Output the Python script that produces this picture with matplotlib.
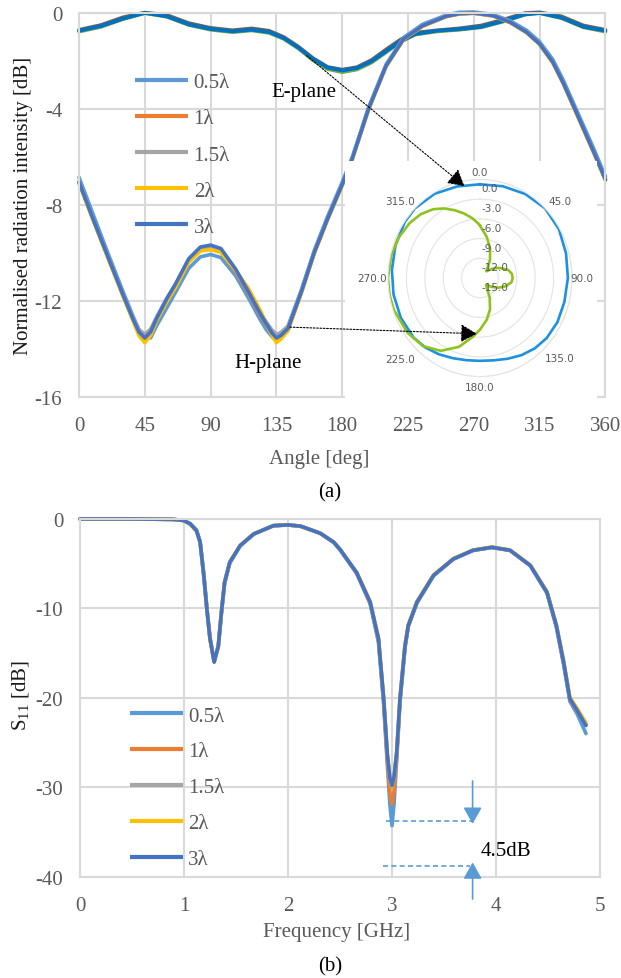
import numpy as np
import matplotlib
matplotlib.use("Agg")
import matplotlib.pyplot as plt
from matplotlib.patches import Rectangle
from matplotlib.transforms import offset_copy

plt.rcParams['font.family'] = ['Liberation Serif', 'DejaVu Serif']
plt.rcParams['mathtext.fontset'] = 'custom'
plt.rcParams['mathtext.rm'] = 'Liberation Serif'
plt.rcParams['mathtext.it'] = 'Liberation Serif:italic'
plt.rcParams['axes.unicode_minus'] = False

# Series (same for both panels)
series_labels = ['0.5λ', '1λ', '1.5λ', '2λ', '3λ']
series_colors = ['#5B9BD5', '#ED7D31', '#A5A5A5', '#FFC000', '#4472C4']

# (a) H-plane, normalised intensity [dB] vs angle [deg]
h_angle = [0, 10, 20, 30, 37, 41, 45, 49, 53, 60, 66, 75, 83, 90, 97, 107, 116, 124, 128, 132,
           135, 138, 143, 152, 161, 170, 180, 187, 198, 210, 222, 235, 251, 260, 270, 283, 295,
           306, 315, 324, 331, 338, 345, 352, 360]
h_05 = [-6.85, -8.45, -10.05, -11.6, -12.65, -13.2, -13.5, -13.55, -13.05, -12.3, -11.65, -10.65,
        -10.17, -10.07, -10.2, -10.95, -11.9, -12.8, -13.2, -13.5, -13.65, -13.5, -13.05, -11.55,
        -9.88, -8.48, -7.05, -5.98, -3.93, -2.14, -1.02, -0.47, -0.09, 0.03, 0.04, -0.06, -0.33,
        -0.72, -1.2, -1.94, -2.78, -3.74, -4.7, -5.66, -6.82]
h_1 = [-7.08, -8.67, -10.22, -11.76, -12.8, -13.35, -13.6, -13.35, -12.8, -11.98, -11.38, -10.35,
       -9.88, -9.83, -9.96, -10.77, -11.7, -12.6, -13.0, -13.4, -13.6, -13.5, -13.18, -11.66,
       -9.99, -8.6, -7.17, -6.07, -4.02, -2.22, -1.1, -0.55, -0.15, -0.04, -0.01, -0.12, -0.4,
       -0.81, -1.3, -2.07, -2.92, -3.88, -4.85, -5.82, -6.97]
h_15 = [-7.03, -8.63, -10.17, -11.7, -12.72, -13.2, -13.4, -13.18, -12.68, -11.9, -11.32, -10.3,
        -9.82, -9.75, -9.88, -10.7, -11.62, -12.5, -12.88, -13.22, -13.4, -13.32, -13.05, -11.6,
        -9.95, -8.56, -7.13, -6.03, -3.98, -2.18, -1.07, -0.52, -0.13, -0.03, 0.0, -0.1, -0.38,
        -0.79, -1.28, -2.04, -2.89, -3.85, -4.82, -5.79, -6.94]
h_2 = [-7.1, -8.7, -10.25, -11.8, -12.85, -13.45, -13.75, -13.45, -12.85, -12.05, -11.45, -10.4,
       -9.92, -9.87, -9.98, -10.72, -11.5, -12.4, -12.95, -13.45, -13.75, -13.6, -13.25, -11.7,
       -10.02, -8.62, -7.19, -6.08, -4.03, -2.23, -1.1, -0.55, -0.15, -0.04, -0.01, -0.12, -0.41,
       -0.82, -1.31, -2.08, -2.93, -3.9, -4.87, -5.84, -6.98]
h_3 = [-7.05, -8.65, -10.2, -11.74, -12.77, -13.3, -13.55, -13.3, -12.75, -11.92, -11.3, -10.25,
       -9.76, -9.68, -9.82, -10.67, -11.64, -12.54, -12.95, -13.35, -13.55, -13.45, -13.15, -11.64,
       -9.97, -8.58, -7.15, -6.05, -4.0, -2.2, -1.08, -0.53, -0.14, -0.03, 0.0, -0.11, -0.39,
       -0.8, -1.29, -2.05, -2.9, -3.86, -4.83, -5.8, -6.95]

# (a) E-plane
e_angle = [0, 15, 30, 45, 60, 75, 90, 105, 118, 130, 140, 150, 160, 170, 180, 190, 200, 210,
           220, 230, 245, 260, 275, 290, 305, 315, 330, 345, 360]
e_green = [-0.78, -0.58, -0.26, -0.01, -0.16, -0.5, -0.7, -0.8, -0.73, -0.83, -1.08, -1.48,
           -1.97, -2.34, -2.47, -2.36, -2.07, -1.64, -1.2, -0.9, -0.77, -0.7, -0.6, -0.36,
           -0.07, -0.01, -0.22, -0.6, -0.78]
e_grey = [-0.7, -0.5, -0.18, 0.02, -0.08, -0.42, -0.62, -0.72, -0.64, -0.74, -1.0, -1.4,
          -1.88, -2.25, -2.36, -2.26, -1.96, -1.52, -1.1, -0.82, -0.72, -0.64, -0.52, -0.28,
          0.0, 0.03, -0.14, -0.52, -0.7]
e_blue = [-0.74, -0.55, -0.24, 0.0, -0.14, -0.48, -0.67, -0.77, -0.7, -0.8, -1.05, -1.45,
          -1.92, -2.28, -2.4, -2.3, -2.02, -1.6, -1.18, -0.88, -0.74, -0.68, -0.58, -0.34,
          -0.06, 0.0, -0.2, -0.58, -0.74]

# polar inset tick labels
polar_angles = [0, 45, 90, 135, 180, 225, 270, 315]
polar_angle_labels = ['0.0', '45.0', '90.0', '135.0', '180.0', '225.0', '270.0', '315.0']
polar_r_ticks = [-15, -12, -9, -6, -3, 0]
polar_r_labels = ['-15.0', '-12.0', '-9.0', '-6.0', '-3.0', '0.0']

# (b) S11 [dB] vs frequency [GHz]
s_freq = [0, 0.5, 0.9, 1.0, 1.06, 1.12, 1.155, 1.19, 1.22, 1.25, 1.29, 1.33, 1.36, 1.39, 1.44,
          1.54, 1.67, 1.86, 2.0, 2.12, 2.24, 2.31, 2.44, 2.5, 2.66, 2.79, 2.87, 2.92, 2.955, 2.98,
          3.0, 3.02, 3.045, 3.077, 3.125, 3.157, 3.24, 3.4, 3.59, 3.78, 3.96, 4.135, 4.33, 4.49,
          4.58, 4.65, 4.71, 4.78, 4.865]
s_05 = [0, 0, -0.05, -0.17, -0.52, -1.25, -2.5, -6.1, -9.9, -13.2, -15.9, -14.3, -10.6, -7.3,
        -4.95, -3.02, -1.7, -0.76, -0.68, -0.82, -1.32, -1.62, -2.64, -3.45, -6.1, -9.5, -13.8,
        -20.8, -27.5, -32.0, -34.3, -31.8, -27.0, -20.5, -14.4, -12.0, -9.4, -6.35, -4.5, -3.52,
        -3.19, -3.52, -5.25, -8.3, -12.1, -16.3, -20.4, -21.8, -24.0]
s_1 = [0, 0, -0.05, -0.18, -0.55, -1.28, -2.58, -6.25, -10.05, -13.35, -15.95, -14.2, -10.45,
       -7.15, -4.88, -3.0, -1.69, -0.75, -0.67, -0.81, -1.31, -1.61, -2.62, -3.42, -6.05, -9.4,
       -13.6, -20.4, -27.0, -30.6, -31.9, -30.4, -26.6, -20.3, -14.3, -11.95, -9.35, -6.32,
       -4.48, -3.51, -3.18, -3.51, -5.22, -8.25, -12.0, -16.1, -20.2, -21.5, -23.0]
s_15 = [0, 0, -0.05, -0.18, -0.56, -1.3, -2.6, -6.3, -10.1, -13.4, -16.0, -14.2, -10.4, -7.1,
        -4.85, -2.98, -1.68, -0.75, -0.67, -0.8, -1.3, -1.6, -2.6, -3.4, -6.0, -9.3, -13.4,
        -20.1, -26.4, -29.2, -30.0, -29.0, -26.2, -20.1, -14.2, -11.9, -9.3, -6.3, -4.47, -3.5,
        -3.17, -3.5, -5.2, -8.2, -11.9, -16.0, -20.1, -21.4, -23.0]
s_2 = [0, 0, -0.06, -0.2, -0.6, -1.35, -2.7, -6.4, -10.2, -13.5, -16.0, -14.1, -10.3, -7.0,
       -4.8, -2.95, -1.66, -0.74, -0.66, -0.8, -1.3, -1.6, -2.6, -3.38, -5.95, -9.2, -13.3,
       -20.0, -26.2, -29.1, -29.9, -28.9, -26.0, -19.9, -14.0, -11.8, -9.2, -6.25, -4.43,
       -3.47, -3.14, -3.47, -5.15, -8.1, -11.8, -15.8, -19.9, -21.2, -22.8]
s_3 = [0, 0, -0.05, -0.18, -0.56, -1.3, -2.6, -6.3, -10.1, -13.4, -16.0, -14.2, -10.4, -7.1,
       -4.85, -2.98, -1.68, -0.75, -0.67, -0.8, -1.3, -1.6, -2.6, -3.4, -6.0, -9.3, -13.4,
       -20.1, -26.3, -29.0, -29.8, -28.8, -26.1, -20.1, -14.2, -11.9, -9.3, -6.3, -4.47, -3.5,
       -3.17, -3.5, -5.2, -8.2, -11.9, -16.0, -20.1, -21.4, -23.1]

GRID = '#D9D9D9'
TXT = '#595959'
FS = 15
LINE_KW = dict(lw=2.6, clip_on=False, solid_joinstyle='round', solid_capstyle='round')


def style_axes(ax):
    """Excel-like look: grey grid, grey frame, no tick marks."""
    ax.grid(True, color=GRID, linewidth=1.5, zorder=0)
    ax.set_axisbelow(True)
    for sp in ax.spines.values():
        sp.set_color(GRID)
        sp.set_linewidth(1.5)
    ax.tick_params(length=0, labelsize=FS, labelcolor=TXT)
    ax.tick_params(axis='y', pad=12)
    ax.tick_params(axis='x', pad=14)


fig = plt.figure(figsize=(6.21, 9.79), dpi=100)

# ---------------- (a) ----------------
ax = fig.add_axes([0.1272, 0.5938, 0.8478, 0.3919])
style_axes(ax)

for vals, c in zip([e_green, e_grey, e_blue], ['#70AD47', '#636363', '#0070C0']):
    ax.plot(e_angle, vals, color=c, **LINE_KW)

h_series = [h_05, h_1, h_15, h_2, h_3]
handles = []
for vals, c, lab in zip(h_series, series_colors, series_labels):
    ln, = ax.plot(h_angle, vals, color=c, label=lab, **LINE_KW)
    handles.append(ln)

ax.set_xlim(0, 360)
ax.set_ylim(-16, 0)
ax.set_xticks(np.arange(0, 361, 45))
ax.set_yticks([0, -4, -8, -12, -16])
ax.set_xlabel('Angle [deg]', fontsize=FS, color=TXT, va='center')
ax.xaxis.set_label_coords(0.456, -0.160)
ax.set_ylabel('Normalised radiation intensity [dB]', fontsize=FS, color='#1a1a1a', va='center')
ax.yaxis.set_label_coords(-0.106, 0.5)

leg = ax.legend(handles=handles, loc='upper left', bbox_to_anchor=(0.107, 0.844),
                frameon=False, fontsize=FS, labelcolor=TXT, borderpad=0, borderaxespad=0,
                handlelength=2.55, handletextpad=0.25, labelspacing=0.79)
for ln in leg.get_lines():
    ln.set_linewidth(3)
    ln.set_solid_capstyle('butt')

ax.text(153.9, -3.29, 'E-plane', fontsize=FS, ha='center', va='center', color='black')
ax.text(129.4, -14.57, 'H-plane', fontsize=FS, ha='center', va='center', color='black')

# white background of the polar inset
ax.add_patch(Rectangle((181.9, -16.05), 172.3, 9.88, facecolor='white', edgecolor='none',
                       zorder=4, clip_on=False))

# polar inset
p = fig.add_axes([0.6248, 0.6143, 0.2963, 0.2014], projection='polar')
p.set_aspect('auto')
p.set_theta_zero_location('N')
p.set_theta_direction(-1)
p.plot(np.radians(e_angle), e_blue, color='#1E90E0', lw=1.9)
p.plot(np.radians(h_angle), h_3, color='#8DC21F', lw=1.9)
p.set_ylim(-15, 0)
p.set_rticks(polar_r_ticks)
p.set_yticklabels([])
p.set_thetagrids(polar_angles, labels=[''] * len(polar_angles))
p.xaxis.grid(False)
p.yaxis.grid(True, color='#E3E3E3', lw=0.8)
p.spines['polar'].set_color('#E3E3E3')
p.spines['polar'].set_linewidth(0.8)

# angle labels, placed just outside the outer ring
label_r = [1.1, 2.56, 1.63, 2.79, 1.58, 2.86, 2.66, 2.56]
label_th = [0, 48, 90, 133.4, 180, 226.6, 270, 312]
for th, r, lab in zip(label_th, label_r, polar_angle_labels):
    p.text(np.radians(th), r, lab, fontsize=7.5, family='DejaVu Sans', color=TXT,
           ha='center', va='center', clip_on=False)
# radial labels along the 0 deg spoke
r_lab_tr = offset_copy(p.transData, fig=fig, x=1, y=-4, units='dots')
for r, lab in zip(polar_r_ticks, polar_r_labels):
    p.text(0, r, lab, fontsize=7.5, family='DejaVu Sans', color=TXT, ha='left', va='top',
           transform=r_lab_tr, clip_on=False)

arrow_kw = dict(arrowstyle='-|>,head_length=0.5,head_width=0.28', color='black', lw=0.8,
                linestyle=(0, (1.5, 1.5)), shrinkA=0, shrinkB=0, mutation_scale=20)
p.annotate('', xy=(np.radians(349.7), -0.8), xytext=(155.7, -1.78), textcoords=ax.transData,
           arrowprops=arrow_kw, annotation_clip=False)
p.annotate('', xy=(np.radians(183.4), -6.5), xytext=(144.3, -13.1), textcoords=ax.transData,
           arrowprops=arrow_kw, annotation_clip=False)

fig.text(330 / 621, 1 - 493.3 / 979, '(a)', fontsize=FS, ha='center', va='center')

# ---------------- (b) ----------------
ax2 = fig.add_axes([0.1288, 0.1035, 0.8374, 0.3654])
style_axes(ax2)
s_series = [s_05, s_1, s_15, s_2, s_3]
handles2 = []
for vals, c, lab in zip(s_series, series_colors, series_labels):
    ln, = ax2.plot(s_freq, vals, color=c, label=lab, **LINE_KW)
    handles2.append(ln)

ax2.set_xlim(0, 5)
ax2.set_ylim(-40, 0)
ax2.set_xticks(range(0, 6))
ax2.set_yticks([0, -10, -20, -30, -40])
ax2.set_xlabel('Frequency [GHz]', fontsize=FS, color=TXT, va='center')
ax2.xaxis.set_label_coords(0.494, -0.154)
ax2.set_ylabel(r'S$_{\mathregular{11}}$ [dB]', fontsize=FS, color='#1a1a1a', va='center')
ax2.yaxis.set_label_coords(-0.115, 0.51)

leg2 = ax2.legend(handles=handles2, loc='upper left', bbox_to_anchor=(0.096, 0.477),
                  frameon=False, fontsize=FS, labelcolor=TXT, borderpad=0, borderaxespad=0,
                  handlelength=2.55, handletextpad=0.25, labelspacing=0.78)
for ln in leg2.get_lines():
    ln.set_linewidth(3)
    ln.set_solid_capstyle('butt')

# 4.5 dB annotation
ann_c = '#5B9BD5'
ax2.plot([2.94, 3.77], [-33.75, -33.75], color=ann_c, lw=1.2, ls=(0, (3, 2)))
ax2.plot([2.91, 3.75], [-38.8, -38.8], color=ann_c, lw=1.2, ls=(0, (3, 2)))
head_kw = dict(arrowstyle='-|>,head_length=0.5,head_width=0.28', color=ann_c, lw=1.2,
               shrinkA=0, shrinkB=0, mutation_scale=20)
ax2.annotate('', xy=(3.775, -34.1), xytext=(3.775, -29.3), arrowprops=head_kw)
ax2.annotate('', xy=(3.775, -38.4), xytext=(3.775, -42.5), arrowprops=head_kw,
             annotation_clip=False)
ax2.text(3.85, -37.1, '4.5dB', fontsize=FS, ha='left', va='center', color='black')

fig.text(330 / 621, 1 - 966.7 / 979, '(b)', fontsize=FS, ha='center', va='center')

fig.savefig('out.png', dpi=100)
